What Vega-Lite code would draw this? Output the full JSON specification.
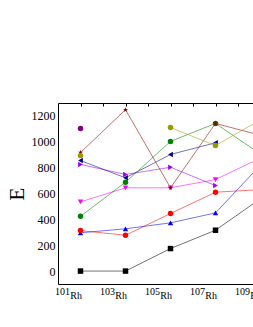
{
  "$schema": "https://vega.github.io/schema/vega-lite/v6.json",
  "autosize": {"type": "none"},
  "padding": {"left": 58, "top": 103, "right": -15, "bottom": 43},
  "width": 210,
  "height": 181,
  "background": "white",
  "config": {
    "view": {"stroke": null},
    "axis": {"domainColor": "black", "domainWidth": 1, "grid": false, "labelColor": "black", "titleColor": "black", "labelFont": "Liberation Serif", "titleFont": "Liberation Serif"},
    "axisY": {"labelOverlap": false, "labelFlush": false}
  },
  "data": {"values": [
    {"series": "black", "seg": "a", "A": 101, "E": 0},
    {"series": "black", "seg": "a", "A": 103, "E": 0},
    {"series": "black", "seg": "a", "A": 105, "E": 174},
    {"series": "black", "seg": "a", "A": 107, "E": 316},
    {"series": "black", "seg": "a", "A": 109, "E": 560},
    {"series": "blue", "seg": "a", "A": 101, "E": 296},
    {"series": "blue", "seg": "a", "A": 103, "E": 327},
    {"series": "blue", "seg": "a", "A": 105, "E": 373},
    {"series": "blue", "seg": "a", "A": 107, "E": 450},
    {"series": "blue", "seg": "a", "A": 109, "E": 820},
    {"series": "red", "seg": "a", "A": 101, "E": 313},
    {"series": "red", "seg": "a", "A": 103, "E": 277},
    {"series": "red", "seg": "a", "A": 105, "E": 445},
    {"series": "red", "seg": "a", "A": 107, "E": 610},
    {"series": "red", "seg": "a", "A": 109, "E": 630},
    {"series": "magenta", "seg": "a", "A": 101, "E": 535},
    {"series": "magenta", "seg": "a", "A": 103, "E": 644},
    {"series": "magenta", "seg": "a", "A": 105, "E": 644},
    {"series": "magenta", "seg": "a", "A": 107, "E": 708},
    {"series": "magenta", "seg": "a", "A": 109, "E": 875},
    {"series": "violet", "seg": "a", "A": 101, "E": 825},
    {"series": "violet", "seg": "a", "A": 103, "E": 747},
    {"series": "violet", "seg": "a", "A": 105, "E": 803},
    {"series": "violet", "seg": "a", "A": 107, "E": 661},
    {"series": "navy", "seg": "a", "A": 101, "E": 855},
    {"series": "navy", "seg": "a", "A": 103, "E": 721},
    {"series": "navy", "seg": "a", "A": 105, "E": 902},
    {"series": "navy", "seg": "a", "A": 107, "E": 992},
    {"series": "green", "seg": "a", "A": 101, "E": 424},
    {"series": "green", "seg": "a", "A": 103, "E": 687},
    {"series": "green", "seg": "a", "A": 105, "E": 1003},
    {"series": "green", "seg": "a", "A": 107, "E": 1142},
    {"series": "green", "seg": "a", "A": 109, "E": 905},
    {"series": "brown", "seg": "a", "A": 101, "E": 917},
    {"series": "brown", "seg": "a", "A": 103, "E": 1248},
    {"series": "brown", "seg": "a", "A": 105, "E": 644},
    {"series": "brown", "seg": "a", "A": 107, "E": 1142},
    {"series": "brown", "seg": "a", "A": 109, "E": 1050},
    {"series": "olive", "seg": "a", "A": 101, "E": 893},
    {"series": "olive", "seg": "b", "A": 105, "E": 1110},
    {"series": "olive", "seg": "b", "A": 107, "E": 971},
    {"series": "olive", "seg": "b", "A": 109, "E": 1170},
    {"series": "purple", "seg": "a", "A": 101, "E": 1103}
  ]},
  "layer": [
    {
      "mark": {"type": "line", "clip": true, "strokeWidth": 1, "opacity": 0.55},
      "encoding": {
        "x": {"field": "A", "type": "quantitative", "scale": {"domain": [100, 109.333], "nice": false, "zero": false},
          "axis": {"orient": "bottom", "title": null, "values": [101, 103, 105, 107, 109], "ticks": false, "labelFlush": false, "labelOverlap": false, "labelBound": false,
            "format": "d", "labelAlign": "right", "labelBaseline": "top", "labelOffset": -11, "labelPadding": 2, "labelFontSize": 10}},
        "y": {"field": "E", "type": "quantitative", "scale": {"domain": [-100, 1300], "nice": false, "zero": false},
          "axis": {"title": "E", "values": [0, 200, 400, 600, 800, 1000, 1200], "format": "d", "labelOverlap": false, "labelFlush": false, "ticks": false, "labelPadding": 3, "labelFontSize": 12, "titleFontSize": 21, "titleFontWeight": "normal", "titlePadding": 4}},
        "color": {"field": "series", "type": "nominal", "legend": null,
          "scale": {"domain": ["black", "blue", "red", "magenta", "violet", "navy", "green", "brown", "olive", "purple"],
            "range": ["#000000", "#0000ff", "#ff0000", "#ff00ff", "#9900ff", "#00008b", "#008000", "#8b0000", "#999900", "#800080"]}},
        "detail": {"field": "seg", "type": "nominal"}
      }
    },
    {
      "mark": {"type": "point", "filled": true, "clip": true, "opacity": 1, "size": 30},
      "encoding": {
        "x": {"field": "A", "type": "quantitative",
          "axis": {"orient": "top", "title": null, "labels": false, "values": [101, 102, 103, 104, 105, 106, 107, 108, 109], "tickSize": -3, "tickColor": "black"}},
        "y": {"field": "E", "type": "quantitative",
          "axis": {"title": "E", "values": [0, 200, 400, 600, 800, 1000, 1200], "format": "d", "labelOverlap": false, "labelFlush": false, "ticks": false, "labelPadding": 3, "labelFontSize": 12, "titleFontSize": 21, "titleFontWeight": "normal", "titlePadding": 4}},
        "color": {"field": "series", "type": "nominal", "legend": null},
        "shape": {"field": "series", "type": "nominal", "legend": null,
          "scale": {"domain": ["black", "blue", "red", "magenta", "violet", "navy", "green", "brown", "olive", "purple"],
            "range": ["square", "triangle-up", "circle", "triangle-down", "triangle-right", "triangle-left", "circle", "M0,-1L0.2245,-0.309L0.951,-0.309L0.363,0.118L0.588,0.809L0,0.382L-0.588,0.809L-0.363,0.118L-0.951,-0.309L-0.2245,-0.309Z", "circle", "circle"]}}
      }
    },
    {
      "mark": {"type": "point", "opacity": 0, "clip": true},
      "encoding": {
        "x": {"field": "A", "type": "quantitative",
          "axis": {"orient": "bottom", "title": null, "values": [101, 103, 105, 107, 109], "domain": false, "ticks": false, "labelFlush": false, "labelOverlap": false, "labelBound": false,
            "labelExpr": "'Rh'", "labelAlign": "right", "labelBaseline": "top", "labelOffset": 1, "labelPadding": 6, "labelFontSize": 10}},
        "y": {"field": "E", "type": "quantitative",
          "axis": {"title": "E", "values": [0, 200, 400, 600, 800, 1000, 1200], "format": "d", "labelOverlap": false, "labelFlush": false, "ticks": false, "labelPadding": 3, "labelFontSize": 12, "titleFontSize": 21, "titleFontWeight": "normal", "titlePadding": 4}}
      }
    }
  ],
  "resolve": {"axis": {"x": "independent"}}
}
